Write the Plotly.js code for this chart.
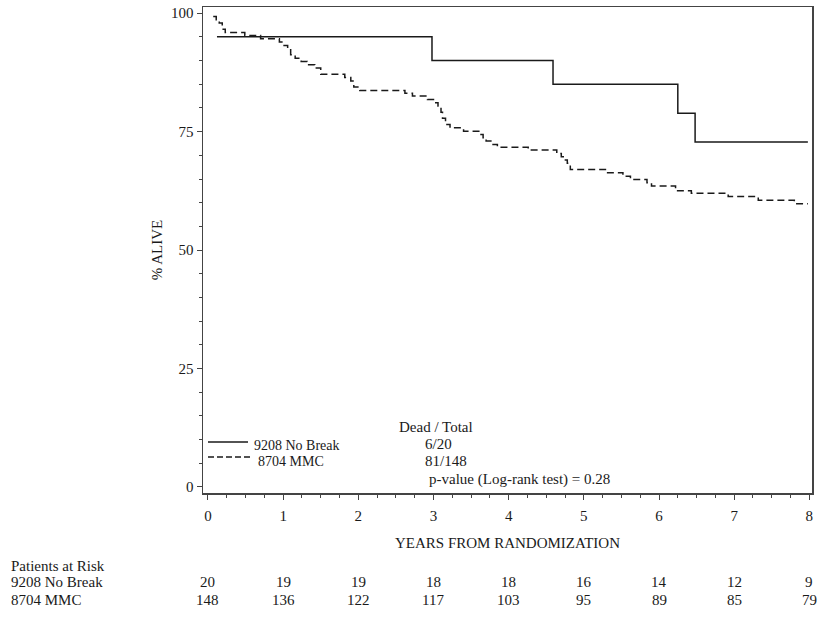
<!DOCTYPE html>
<html>
<head>
<meta charset="utf-8">
<script src="https://cdn.plot.ly/plotly-3.0.1.min.js"></script>
<style>
  html, body { margin: 0; padding: 0; background: #fff; }
  #chart { width: 824px; height: 618px; }
</style>
</head>
<body>
<div id="chart"></div>
<script>
// ---- Data ----
const years = [0, 1, 2, 3, 4, 5, 6, 7, 8];
const noBreakAtRisk = [20, 19, 19, 18, 18, 16, 14, 12, 9];
const mmcAtRisk = [148, 136, 122, 117, 103, 95, 89, 85, 79];

// 9208 No Break (solid) Kaplan-Meier step points
const noBreakTime = [0.12, 2.98, 4.59, 6.25, 6.48, 7.98];
const noBreakSurv = [95.0, 90.0, 85.0, 78.9, 72.8, 72.8];

// 8704 MMC (dashed) Kaplan-Meier step points
const mmcTime = [0.07, 0.11, 0.15, 0.19, 0.23, 0.49, 0.70, 0.95, 1.00, 1.06, 1.10, 1.16,
  1.24, 1.32, 1.42, 1.50, 1.82, 1.90, 1.94, 2.02, 2.62, 2.72, 2.92, 3.00, 3.06, 3.10,
  3.12, 3.16, 3.22, 3.40, 3.62, 3.66, 3.70, 3.78, 3.85, 4.26, 4.64, 4.70, 4.74, 4.78,
  4.82, 5.30, 5.52, 5.62, 5.84, 5.90, 6.22, 6.43, 6.92, 7.32, 7.80, 7.98];
const mmcSurv = [99.3, 98.6, 97.9, 96.6, 95.9, 95.3, 94.6, 93.9, 93.2, 92.5, 91.2, 90.5,
  89.8, 89.1, 88.4, 87.1, 86.4, 85.7, 84.4, 83.7, 83.1, 82.5, 81.8, 81.1, 80.4, 79.1,
  77.8, 76.5, 75.8, 75.1, 74.4, 73.7, 73.0, 72.3, 71.7, 71.1, 70.4, 69.7, 69.0, 68.3,
  67.0, 66.3, 65.6, 64.9, 64.2, 63.5, 62.5, 62.0, 61.3, 60.5, 59.8, 59.8];

const seriesNames = ['9208 No Break', '8704 MMC'];
const deadTotal = ['6/20', '81/148'];
const pValueText = 'p-value (Log-rank test) = 0.28';

// ---- Plot ----
const FONT = 'Liberation Serif, Times New Roman, serif';
const INK = '#1a1a1a';
const FRAME = '#444';

const traces = [
  { x: noBreakTime, y: noBreakSurv, mode: 'lines', name: seriesNames[0],
    line: { shape: 'hv', color: INK, width: 1.5 }, hoverinfo: 'x+y' },
  { x: mmcTime, y: mmcSurv, mode: 'lines', name: seriesNames[1],
    line: { shape: 'hv', color: INK, width: 1.5, dash: '7px,4px' }, hoverinfo: 'x+y' }
];

const plotL = 203, plotR = 812, plotT = 7, plotB = 493;
const plotW = plotR - plotL, plotH = plotB - plotT;
const px = v => (v - plotL) / plotW;
const py = v => (plotB - v) / plotH;

const annotations = [];
function txt(text, x, y, xanchor, xref, size) {
  annotations.push({ text: text, x: x, y: y, xref: xref || 'paper', yref: 'paper',
    xanchor: xanchor || 'left', yanchor: 'middle', showarrow: false,
    font: { family: FONT, size: size || 15, color: INK } });
}
// legend text
txt(seriesNames[0], px(252), py(445), 'left', 'paper', 14);
txt(seriesNames[1], px(256), py(461), 'left', 'paper', 14);
// dead / total block
txt('Dead / Total', px(397), py(427));
txt(deadTotal[0], px(423), py(444));
txt(deadTotal[1], px(423), py(461));
txt(pValueText, px(427), py(479.5));
// patients at risk table
txt('Patients at Risk', px(9), py(566));
txt(seriesNames[0], px(9), py(582));
txt(seriesNames[1], px(9), py(600));
years.forEach((yr, i) => {
  txt(String(noBreakAtRisk[i]), yr, py(582), 'center', 'x');
  txt(String(mmcAtRisk[i]), yr, py(600), 'center', 'x');
});

const shapes = [
  { type: 'line', xref: 'paper', yref: 'paper', x0: px(208), x1: px(248), y0: py(442), y1: py(442),
    line: { color: INK, width: 1.5 } },
  { type: 'line', xref: 'paper', yref: 'paper', x0: px(208), x1: px(251), y0: py(457), y1: py(457),
    line: { color: INK, width: 1.5, dash: '6px,3px' } }
];

const x0 = -0.066, x1 = 8.035;
const y0 = -1.27, y1 = 101.3;

const layout = {
  width: 824, height: 618,
  margin: { l: plotL, r: 824 - plotR, t: plotT, b: 618 - plotB, pad: 0 },
  paper_bgcolor: '#fff', plot_bgcolor: '#fff',
  showlegend: false,
  font: { family: FONT, size: 15, color: INK },
  xaxis: {
    range: [x0, x1], tickmode: 'array', tickvals: years, ticktext: years.map(String),
    ticks: 'outside', ticklen: 5, tickwidth: 1, tickcolor: FRAME, ticklabelstandoff: 3,
    minor: { dtick: 0.25, tick0: 0, ticks: 'outside', ticklen: 3, tickcolor: FRAME, tickwidth: 1, showgrid: false },
    showline: true, linecolor: FRAME, linewidth: 1.5, mirror: true,
    showgrid: false, zeroline: false,
    tickfont: { family: FONT, size: 15, color: INK },
    title: { text: 'YEARS FROM RANDOMIZATION', font: { family: FONT, size: 15, color: INK }, standoff: 15 },
    automargin: false, fixedrange: true
  },
  yaxis: {
    range: [y0, y1], tickmode: 'array', tickvals: [0, 25, 50, 75, 100],
    ticks: 'outside', ticklen: 5, tickwidth: 1, tickcolor: FRAME,
    minor: { dtick: 5, tick0: 0, ticks: 'outside', ticklen: 3, tickcolor: FRAME, tickwidth: 1, showgrid: false },
    showline: true, linecolor: FRAME, linewidth: 1.5, mirror: true,
    showgrid: false, zeroline: false,
    tickfont: { family: FONT, size: 15, color: INK },
    title: { text: '% ALIVE', font: { family: FONT, size: 15, color: INK }, standoff: 5 },
    automargin: false, fixedrange: true
  },
  annotations: annotations,
  shapes: shapes
};

Plotly.newPlot('chart', traces, layout, { displayModeBar: false, staticPlot: true });
</script>
</body>
</html>
